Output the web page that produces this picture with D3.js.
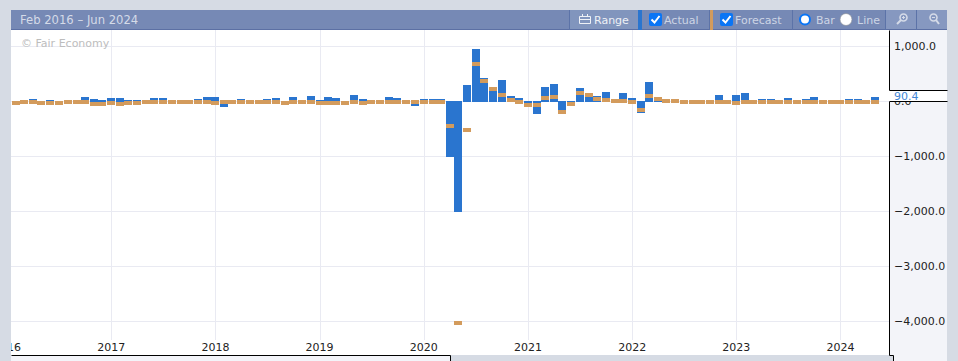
<!DOCTYPE html>
<html>
<head>
<meta charset="utf-8">
<script src="https://d3js.org/d3.v7.min.js"></script>
<style>
html, body { margin: 0; padding: 0; background: #d6dbe4; overflow: hidden; }
svg { display: block; }
text { font-family: "DejaVu Sans", Verdana, sans-serif; font-size: 11px; }
</style>
</head>
<body>
<svg id="chart" width="958" height="361"></svg>
<script>
// values, one per month from Feb 2016 to May 2024
const actual = [
    5, 15, 45, 5, 27, 5, 15, 15, 82, 45, 27,
    64, 64, 27, 27, 15, 64, 64, 15, 15, 15, 45, 82,
    82, -100, 15, 45, 15, 15, 45, 64, 5, 82, 15, 100,
    27, 82, 64, 5, 118, 45, 15, 15, 82, 64, 15, -82,
    45, 45, 45, -1000, -2010, 300, 955, 427, 245, 391, 100, 64,
    -50, -230, 264, 318, -190, -30, 245, 135, 100, 173, 30, 155,
    64, -210, 355, 60, 30, 15, 15, 15, 15, 15, 118, 15,
    118, 155, 15, 45, 45, 15, 64, 15, 45, 82, 15, 15,
    15, 45, 45, 15, 90.4
];
const forecast = [
    9, 27, 27, 9, 9, 9, 27, 27, 27, -9, -9,
    9, -9, 9, 9, 27, 27, 27, 27, 27, 27, 27, 27,
    9, 27, 27, 27, 27, 27, 27, 27, 9, 27, 27, 27,
    9, 9, 9, 9, 27, 9, 27, 27, 27, 27, 27, 27,
    27, 27, 27, -410, -3990, -490, 718, 409, 264, 155, 64, 27,
    -27, -27, 100, 118, -155, -9, 191, 155, 82, 64, 45, 45,
    27, -118, 136, 82, 45, 45, 27, 27, 27, 27, 27, 27,
    9, 27, 27, 27, 27, 27, 27, 27, 27, 27, 27, 27,
    27, 27, 27, 27, 27
];
const yTicks = [1000, 0, -1000, -2000, -3000, -4000];
const xTickYears = [2016, 2017, 2018, 2019, 2020, 2021, 2022, 2023, 2024];
const months = d3.utcMonth.range(new Date(Date.UTC(2016, 1, 1)), new Date(Date.UTC(2024, 5, 1)));

const svg = d3.select("#chart");
const plotLeft = 11, plotRight = 889, plotTop = 30, plotBottom = 355, panelRight = 947;

const x = d3.scaleUtc()
    .domain([new Date(Date.UTC(2016, 0, 15, 8)), new Date(Date.UTC(2024, 5, 19, 8))])
    .range([plotLeft, plotRight]);
const y = d3.scaleLinear().domain([1000, -4000]).range([46.5, 321.5]);

// clip so the 2016 label gets cut like in the original
svg.append("clipPath").attr("id", "plotClip")
    .append("rect").attr("x", plotLeft).attr("y", plotTop).attr("width", plotRight - plotLeft).attr("height", plotBottom - plotTop);

// backgrounds
svg.append("rect").attr("x", plotLeft).attr("y", plotTop).attr("width", plotRight - plotLeft).attr("height", plotBottom - plotTop).attr("fill", "#fff");
svg.append("rect").attr("x", plotRight).attr("y", plotTop).attr("width", panelRight - plotRight).attr("height", 361 - plotTop).attr("fill", "#f3f4f9");
svg.append("rect").attr("x", plotLeft).attr("y", plotBottom).attr("width", 439).attr("height", 6).attr("fill", "#f3f4f9");

const plot = svg.append("g").attr("clip-path", "url(#plotClip)");

// grid
plot.append("g").selectAll("line").data(xTickYears).enter().append("line")
    .attr("x1", d => Math.round(x(new Date(Date.UTC(d, 0, 1)))) + 0.5)
    .attr("x2", d => Math.round(x(new Date(Date.UTC(d, 0, 1)))) + 0.5)
    .attr("y1", plotTop).attr("y2", 340)
    .attr("stroke", "#e9eaf2");
plot.append("g").selectAll("line").data(yTicks).enter().append("line")
    .attr("x1", plotLeft).attr("x2", plotRight)
    .attr("y1", d => y(d)).attr("y2", d => y(d))
    .attr("stroke", "#e9eaf2");

plot.append("text").attr("x", 21).attr("y", 47).attr("fill", "#bdbdbd").text("© Fair Economy");

// bars
const barLeft = (d, i) => Math.round(x(months[i])) - 4;
plot.append("g").selectAll("rect").data(actual).enter().append("rect")
    .attr("x", barLeft)
    .attr("width", 8)
    .attr("y", d => d >= 0 ? Math.round(y(d)) : 101)
    .attr("height", d => d >= 0 ? 102 - Math.round(y(d)) : Math.round(y(d)) - 101)
    .attr("fill", "#2a75cf");
plot.append("g").selectAll("rect").data(forecast).enter().append("rect")
    .attr("x", barLeft)
    .attr("width", 8)
    .attr("y", d => Math.round(y(d)))
    .attr("height", 4)
    .attr("fill", "#d39b5c");

// x axis
const xAxis = d3.axisBottom(x)
    .tickValues(xTickYears.map(d => new Date(Date.UTC(d, 0, 1))))
    .tickFormat(d3.utcFormat("%Y"))
    .tickSize(0).tickPadding(0);
const xG = plot.append("g").attr("transform", "translate(-0.5,343)").call(xAxis);
xG.select(".domain").remove();
xG.selectAll("text").attr("fill", "#222").style("font-size", "11px").style("font-family", "'DejaVu Sans'");

// y axis
const yAxis = d3.axisRight(y)
    .tickValues(yTicks)
    .tickFormat(d3.format(",.1f"))
    .tickSize(0).tickPadding(0);
const yG = svg.append("g").attr("transform", "translate(894,-1)").call(yAxis);
yG.select(".domain").remove();
yG.selectAll("text").attr("fill", "#222").style("font-size", "11px").style("font-family", "'DejaVu Sans'");

// current value flag
const lastValue = actual[actual.length - 1];
svg.append("rect").attr("x", plotRight).attr("y", 90).attr("width", panelRight - plotRight).attr("height", 12).attr("fill", "#fff");
svg.append("text").attr("x", 894).attr("y", 100).attr("fill", "#3f86d6").text(d3.format(".1f")(lastValue));
const frame = [
    [plotRight, plotTop, plotRight, 90], [plotRight, 90, panelRight, 90],
    [plotRight, 101, panelRight, 101], [plotRight, 101, plotRight, plotBottom],
    [plotLeft, plotBottom, 450, plotBottom], [450, plotBottom, 450, 361],
    [plotRight, plotBottom, 893, plotBottom], [893, plotBottom, 893, 361]
];
svg.append("g").selectAll("line").data(frame).enter().append("line")
    .attr("x1", d => d[0] + 0.5).attr("y1", d => d[1] + 0.5)
    .attr("x2", d => d[2] + 0.5).attr("y2", d => d[3] + 0.5)
    .attr("stroke", "#000");
// grey strip under the plot, between the two navigator bits
svg.append("rect").attr("x", 451).attr("y", plotBottom + 1).attr("width", 442).attr("height", 5).attr("fill", "#d6dbe4");

// header bar
const header = svg.append("g");
header.append("rect").attr("x", plotLeft).attr("y", 10).attr("width", panelRight - plotLeft).attr("height", 20).attr("fill", "#7689b5");
header.append("rect").attr("x", plotLeft).attr("y", 29).attr("width", panelRight - plotLeft).attr("height", 1).attr("fill", "#5c70a4");
header.append("rect").attr("x", 570).attr("y", 10).attr("width", 68).attr("height", 19).attr("fill", "#8195bd");
header.append("rect").attr("x", 886).attr("y", 10).attr("width", 61).attr("height", 19).attr("fill", "#8698c0");
header.append("rect").attr("x", 638).attr("y", 10).attr("width", 4).attr("height", 20).attr("fill", "#2a75cf");
header.append("rect").attr("x", 710).attr("y", 10).attr("width", 3).attr("height", 20).attr("fill", "#d39b5c");
[569, 709, 792, 885, 916].forEach(sx => {
    header.append("rect").attr("x", sx).attr("y", 10).attr("width", 1).attr("height", 20).attr("fill", "#5c73a8");
});
header.append("text").attr("x", 20).attr("y", 24).attr("fill", "#d5dbe8").style("font-size", "11.6px").text("Feb 2016 – Jun 2024");
header.append("text").attr("x", 594).attr("y", 24).attr("fill", "#eef1f6").text("Range");
header.append("text").attr("x", 664).attr("y", 24).attr("fill", "#cdd5e5").text("Actual");
header.append("text").attr("x", 735).attr("y", 24).attr("fill", "#cdd5e5").text("Forecast");
header.append("text").attr("x", 816).attr("y", 24).attr("fill", "#cdd5e5").text("Bar");
header.append("text").attr("x", 857).attr("y", 24).attr("fill", "#cdd5e5").text("Line");

// calendar icon
header.append("path").attr("fill", "none").attr("stroke", "#eef1f6").attr("stroke-width", 1)
    .attr("d", "M579.5 16.5h11v7h-11zM579.5 19.5h11M582.5 14v3M587.5 14v3");

// checkboxes
[649, 720].forEach(cx => {
    header.append("rect").attr("x", cx).attr("y", 13).attr("width", 13).attr("height", 13).attr("rx", 2).attr("fill", "#0a75f5");
    header.append("path").attr("fill", "none").attr("stroke", "#fff").attr("stroke-width", 2)
        .attr("d", `M${cx + 2.5} 19.5l3 3l5 -6.5`);
});

// radios
header.append("circle").attr("cx", 805).attr("cy", 19.5).attr("r", 5).attr("fill", "#fff").attr("stroke", "#0a75f5").attr("stroke-width", 2);
header.append("circle").attr("cx", 846).attr("cy", 19.5).attr("r", 6).attr("fill", "#fff").attr("stroke", "#8a8f9a").attr("stroke-width", 0.7);

// magnifier icons
[[902, true], [932, false]].forEach(([cx, plus]) => {
    const g = header.append("g").attr("transform", `translate(${cx},19)`).attr("fill", "none").attr("stroke", "#d5dbe8");
    g.append("circle").attr("cx", 1.5).attr("cy", -1.5).attr("r", 3.5).attr("stroke-width", 1.6);
    const handle = plus ? "M-1 1L-5 5" : "M4 1L7 5";
    g.append("path").attr("d", handle).attr("stroke-width", 2);
    g.append("path").attr("d", plus ? "M0 -1.5h3M1.5 -3v3" : "M0 -1.5h3").attr("stroke-width", 1);
});
</script>
</body>
</html>
